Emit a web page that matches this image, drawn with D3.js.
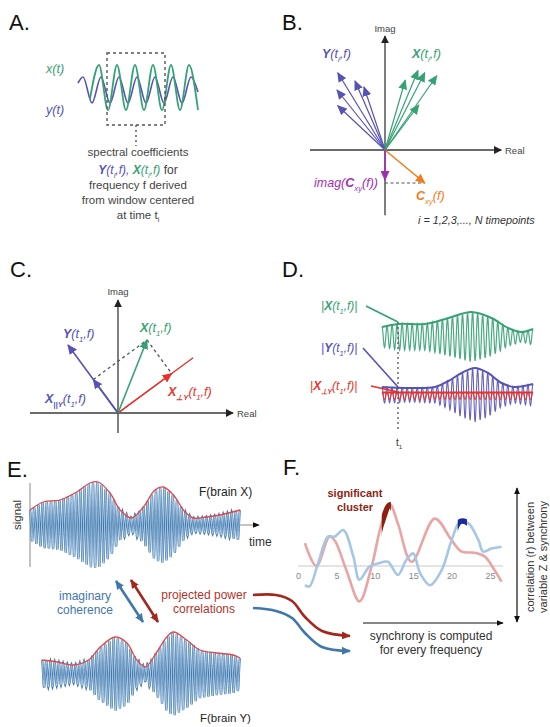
<!DOCTYPE html>
<html>
<head>
<meta charset="utf-8">
<script src="https://cdn.jsdelivr.net/npm/d3@7"></script>
<style>
  body { margin: 0; background: #fff; }
  svg { display: block; font-family: "Liberation Sans", Arial, sans-serif; }
</style>
</head>
<body>
<svg id="fig" width="550" height="727"></svg>
<script>
// ---- data ----------------------------------------------------------
// A: extrema of the two raw signals [t, value]
const A_X_EXTREMA = [[12,-0.5],[21,1],[30,-1],[39,1],[48,-1],[57,1],[66,-1],[75,1],[84,-1],[93,1],[102,-1],[111,1],[120,-1]];
const A_Y_EXTREMA = [[0,0.2],[5,0.47],[14,-0.69],[23,0.47],[32,-0.69],[41,0.47],[50,-0.69],[59,0.47],[68,-0.69],[77,0.47],[86,-0.69],[95,0.47],[104,-0.69],[113,0.47],[120,-0.2]];

// B: spectral coefficients in the complex plane [real, imag]
const B_Y_VECTORS = [[-0.63,1.03],[-0.40,0.92],[-0.64,0.80],[-0.28,0.84],[-0.63,0.59]];
const B_X_VECTORS = [[0.27,0.93],[0.44,1.06],[0.53,1.03],[0.69,0.99],[0.45,0.60]];
const B_CXY = [0.53,-0.44];
const B_IMAG_CXY = [0,-0.40];

// C: single timepoint vectors
const C_Y_VEC = [-1.0, 1.36];
const C_X_VEC = [0.58, 1.46];

// D: amplitude envelopes (position 0..1, amplitude)
const D_X_POS = [0, 0.11, 0.286, 0.44, 0.593, 0.725, 0.835, 0.923, 1];
const D_X_AMP = [10, 13, 13, 19, 25, 19, 9, 5, 8];
const D_Y_POS = [0, 0.176, 0.352, 0.44, 0.527, 0.615, 0.703, 0.791, 0.879, 1];
const D_Y_AMP = [8, 7, 8, 14, 22, 27, 22, 12, 8, 11];
const D_P_POS = [0, 1];
const D_P_AMP = [3.5, 3.5];

// E: signal envelopes
const E_X_POS = [0, 0.063, 0.143, 0.222, 0.286, 0.325, 0.381, 0.429, 0.484, 0.54, 0.595, 0.635, 0.683, 0.738, 0.778, 0.841, 0.905, 1];
const E_X_AMP = [15, 23, 25, 33, 42, 43, 32, 15, 7, 18, 35, 38, 30, 13, 7, 8, 10, 15];
const E_Y_POS = [0, 0.076, 0.16, 0.235, 0.294, 0.37, 0.429, 0.479, 0.521, 0.58, 0.63, 0.664, 0.731, 0.798, 0.882, 0.966, 1];
const E_Y_AMP = [14, 12, 9, 14, 27, 37, 31, 14, 7, 22, 37, 42, 34, 24, 21, 19, 16];

// F: correlation (r) by frequency
const F_TICKS = [0, 5, 10, 15, 20, 25];
const F_RED_FREQ = [0.9, 2.4, 4.1, 4.8, 6.3, 8, 9.6, 10.9, 12, 13, 14.8, 17.8, 20, 21.3, 23, 24.3, 25.6, 26.5];
const F_RED_R    = [0.38, 0, 0.49, 0.42, -0.07, -0.59, 0, 0.71, 1.02, 0.71, 0.07, 0.79, 0.43, 0.24, 0.22, 0.16, -0.07, -0.26];
const F_BLUE_FREQ = [0.9, 1.5, 2.6, 3.9, 4.8, 5.9, 7.2, 8, 9.3, 10.4, 11.7, 13, 14.1, 15, 15.9, 17.2, 18.7, 20, 21.1, 22.2, 23.5, 24.1, 25.2, 26.5];
const F_BLUE_R    = [-0.32, -0.34, 0.04, 0.49, 0.49, 0.6, 0.16, -0.23, -0.01, 0.04, 0.07, -0.15, 0.1, 0.21, -0.12, -0.32, -0.07, 0.43, 0.74, 0.71, 0.43, 0.24, 0.29, 0.32];
const F_RED_CLUSTER = [10.9, 12.1];
const F_BLUE_CLUSTER = [20.8, 22.0];

// ---- style ---------------------------------------------------------
const C = {
  green: "#36a273", blue: "#5652b6", red: "#e8312b", orange: "#f27c1c",
  purple: "#a22fb2", axis: "#3a3a3a", grey: "#555",
  eBlue: "#3f77ad", eRed: "#e2474a", eDark: "#a3271d",
  fRed: "#e9a4a4", fBlue: "#a6c6e6", fDarkRed: "#8f1f12", fDarkBlue: "#1b2b9e"
};

const svg = d3.select("#fig");
const defs = svg.append("defs");

function arrowHead(id, color, len, wid) {
  defs.append("marker").attr("id", id)
    .attr("viewBox", "0 0 10 10").attr("refX", 9).attr("refY", 5)
    .attr("markerWidth", len).attr("markerHeight", wid)
    .attr("markerUnits", "userSpaceOnUse").attr("preserveAspectRatio", "none")
    .attr("orient", "auto-start-reverse")
    .append("path").attr("d", "M0,0L10,5L0,10Z").attr("fill", color);
}
arrowHead("ah-axis", "#222", 8, 8);
arrowHead("ah-green", C.green, 10, 9);
arrowHead("ah-blue", C.blue, 10, 9);
arrowHead("ah-red", C.red, 10, 9);
arrowHead("ah-orange", C.orange, 10, 9);
arrowHead("ah-purple", C.purple, 10, 9);
arrowHead("ah-eblue", C.eBlue, 9, 8);
arrowHead("ah-edark", C.eDark, 9, 8);
arrowHead("ah-black", "#111", 7, 6);

// text with bold / subscript pieces
function rich(g, x, y, parts, o) {
  const size = o.size || 12;
  const t = g.append("text").attr("x", x).attr("y", y)
    .attr("font-size", size).attr("fill", o.fill || "#333")
    .attr("text-anchor", o.anchor || "start");
  if (o.italic) t.attr("font-style", "italic");
  if (o.bold) t.attr("font-weight", "bold");
  let shift = 0;
  parts.forEach(p => {
    if (typeof p === "string") p = { t: p };
    const s = t.append("tspan").text(p.t);
    const want = p.sub ? size * 0.3 : 0;
    if (want !== shift) { s.attr("dy", want - shift); shift = want; }
    if (p.sub) s.attr("font-size", size * 0.62);
    if (p.b) s.attr("font-weight", "bold");
    if (p.fill) s.attr("fill", p.fill);
    if (p.n) s.attr("font-style", "normal");
  });
  return t;
}

function label(x, y, s) {
  svg.append("text").attr("x", x).attr("y", y).attr("font-size", 22)
    .attr("fill", "#111").text(s);
}

// modulated carrier sampled along an envelope
function carrier(x0, x1, pos, amp, center, cycles) {
  const envX = d3.scaleLinear().domain([0, 1]).range([x0, x1]);
  const env = d3.scaleLinear().domain(pos).range(amp);
  const n = cycles * 16;
  const pts = d3.range(n + 1).map(i => {
    const f = i / n;
    return [envX(f), center - env(f) * Math.cos(2 * Math.PI * cycles * f)];
  });
  const top = pos.map((p, i) => [envX(p), center - amp[i]]);
  return { pts, top };
}

// ============================================================
//  A
// ============================================================
(function panelA() {
  const g = svg.append("g");
  label(9, 30, "A.");
  const x = d3.scaleLinear().domain([0, 120]).range([78, 198]);
  const y = d3.scaleLinear().domain([-1, 1]).range([110, 65]);
  const line = d3.line().x(d => x(d[0])).y(d => y(d[1])).curve(d3.curveMonotoneX);
  g.append("path").attr("d", line(A_Y_EXTREMA)).attr("fill", "none")
    .attr("stroke", C.blue).attr("stroke-width", 1.6);
  g.append("path").attr("d", line(A_X_EXTREMA)).attr("fill", "none")
    .attr("stroke", C.green).attr("stroke-width", 1.8);
  g.append("rect").attr("x", 107).attr("y", 53).attr("width", 58).attr("height", 72)
    .attr("fill", "none").attr("stroke", "#555").attr("stroke-width", 1.4)
    .attr("stroke-dasharray", "3,3");
  g.append("line").attr("x1", 136).attr("x2", 136).attr("y1", 125).attr("y2", 146)
    .attr("stroke", "#555").attr("stroke-width", 1.4).attr("stroke-dasharray", "2,3");
  rich(g, 46, 73, ["x(t)"], { fill: C.green, italic: true, size: 12.5 });
  rich(g, 46, 114, ["y(t)"], { fill: C.blue, italic: true, size: 12.5 });
  const tc = "#444", cx = 138;
  rich(g, cx, 156, ["spectral coefficients"], { fill: tc, anchor: "middle", size: 11.5 });
  rich(g, cx, 174, [
    { t: "Y", b: true, fill: C.blue }, { t: "(t", fill: C.blue }, { t: "i", sub: true, fill: C.blue },
    { t: ",f)", fill: C.blue }, { t: ", ", fill: C.blue },
    { t: "X", b: true, fill: C.green }, { t: "(t", fill: C.green }, { t: "i", sub: true, fill: C.green },
    { t: ",f)", fill: C.green }, { t: " for", fill: tc, n: true }
  ], { italic: true, anchor: "middle", size: 12 });
  rich(g, cx, 189, ["frequency f derived"], { fill: tc, anchor: "middle", size: 11.5 });
  rich(g, cx, 204, ["from window centered"], { fill: tc, anchor: "middle", size: 11.5 });
  rich(g, cx, 219, ["at time t", { t: "i", sub: true }], { fill: tc, anchor: "middle", size: 11.5 });
})();

// ============================================================
//  B
// ============================================================
(function panelB() {
  const g = svg.append("g");
  label(282, 30, "B.");
  const x = d3.scaleLinear().domain([0, 1]).range([385, 460]);
  const y = d3.scaleLinear().domain([0, 1]).range([150, 75]);
  g.append("line").attr("x1", x(-1.0)).attr("x2", x(1.55)).attr("y1", y(0)).attr("y2", y(0))
    .attr("stroke", C.axis).attr("stroke-width", 1.3).attr("marker-end", "url(#ah-axis)");
  g.append("line").attr("x1", x(0)).attr("x2", x(0)).attr("y1", y(-0.87)).attr("y2", y(1.52))
    .attr("stroke", C.axis).attr("stroke-width", 1.3).attr("marker-end", "url(#ah-axis)");
  g.append("text").attr("x", x(0)).attr("y", 32).attr("text-anchor", "middle")
    .attr("font-size", 9.5).attr("fill", "#444").text("Imag");
  g.append("text").attr("x", x(1.6)).attr("y", y(0) + 3.5)
    .attr("font-size", 9.5).attr("fill", "#444").text("Real");
  // dashed projection of C_xy onto the imag axis
  g.append("line").attr("x1", x(0)).attr("x2", x(B_CXY[0])).attr("y1", y(B_CXY[1])).attr("y2", y(B_CXY[1]))
    .attr("stroke", "#555").attr("stroke-width", 1.2).attr("stroke-dasharray", "3,2.5");
  const vec = (data, color, mk, w) => g.append("g").selectAll("line").data(data).join("line")
    .attr("x1", x(0)).attr("y1", y(0)).attr("x2", d => x(d[0])).attr("y2", d => y(d[1]))
    .attr("stroke", color).attr("stroke-width", w).attr("marker-end", `url(#${mk})`);
  vec(B_Y_VECTORS, C.blue, "ah-blue", 1.2);
  vec(B_X_VECTORS, C.green, "ah-green", 1.2);
  vec([B_CXY], C.orange, "ah-orange", 1.6);
  vec([B_IMAG_CXY], C.purple, "ah-purple", 1.6);
  rich(g, 322, 58, [{ t: "Y", b: true }, "(t", { t: "i", sub: true }, ",f)"], { fill: C.blue, italic: true, size: 12.5 });
  rich(g, 412, 58, [{ t: "X", b: true }, "(t", { t: "i", sub: true }, ",f)"], { fill: C.green, italic: true, size: 12.5 });
  rich(g, 378, 187, ["imag(", { t: "C", b: true }, { t: "xy", sub: true }, "(f))"], { fill: C.purple, italic: true, size: 12.5, anchor: "end" });
  rich(g, 416, 200, [{ t: "C", b: true }, { t: "xy", sub: true }, "(f)"], { fill: C.orange, italic: true, size: 12.5 });
  rich(g, 418, 224, ["i = 1,2,3,..., N timepoints"], { fill: "#333", italic: true, size: 10.8 });
})();

// ============================================================
//  C
// ============================================================
(function panelC() {
  const g = svg.append("g");
  label(10, 277, "C.");
  const x = d3.scaleLinear().domain([0, 1]).range([118, 168]);
  const y = d3.scaleLinear().domain([0, 1]).range([413, 363]);
  g.append("line").attr("x1", x(-1.76)).attr("x2", x(2.3)).attr("y1", y(0)).attr("y2", y(0))
    .attr("stroke", C.axis).attr("stroke-width", 1.3).attr("marker-end", "url(#ah-axis)");
  g.append("line").attr("x1", x(0)).attr("x2", x(0)).attr("y1", y(-0.4)).attr("y2", y(2.26))
    .attr("stroke", C.axis).attr("stroke-width", 1.3).attr("marker-end", "url(#ah-axis)");
  g.append("text").attr("x", x(0)).attr("y", 295).attr("text-anchor", "middle")
    .attr("font-size", 9.5).attr("fill", "#444").text("Imag");
  g.append("text").attr("x", x(2.38)).attr("y", y(0) + 3.5)
    .attr("font-size", 9.5).attr("fill", "#444").text("Real");

  // projection of X onto Y and its orthogonal remainder
  const yy = C_Y_VEC[0] ** 2 + C_Y_VEC[1] ** 2;
  const k = (C_X_VEC[0] * C_Y_VEC[0] + C_X_VEC[1] * C_Y_VEC[1]) / yy;
  const par = [k * C_Y_VEC[0], k * C_Y_VEC[1]];
  const perp = [C_X_VEC[0] - par[0], C_X_VEC[1] - par[1]];

  const dash = (a, b) => g.append("line").attr("x1", x(a[0])).attr("y1", y(a[1]))
    .attr("x2", x(b[0])).attr("y2", y(b[1])).attr("stroke", "#555")
    .attr("stroke-width", 1.3).attr("stroke-dasharray", "3,3");
  dash(par, C_X_VEC);
  dash(C_X_VEC, perp);

  const seg = (b, color, mk, w) => g.append("line").attr("x1", x(0)).attr("y1", y(0))
    .attr("x2", x(b[0])).attr("y2", y(b[1])).attr("stroke", color).attr("stroke-width", w)
    .attr("marker-end", mk ? `url(#${mk})` : null);
  seg([perp[0] * 1.4, perp[1] * 1.4], C.red, null, 1.4);
  seg(perp, C.red, "ah-red", 1.4);
  seg(C_Y_VEC, C.blue, "ah-blue", 1.6);
  seg(par, C.blue, "ah-blue", 1.6);
  seg(C_X_VEC, C.green, "ah-green", 1.6);

  rich(g, 63, 338, [{ t: "Y", b: true }, "(t", { t: "1", sub: true }, ",f)"], { fill: C.blue, italic: true, size: 12.5 });
  rich(g, 140, 332, [{ t: "X", b: true }, "(t", { t: "1", sub: true }, ",f)"], { fill: C.green, italic: true, size: 12.5 });
  rich(g, 45, 403, [{ t: "X", b: true }, { t: "||Y", sub: true, b: true }, "(t", { t: "1", sub: true }, ",f)"], { fill: C.blue, italic: true, size: 12.5 });
  rich(g, 168, 396, [{ t: "X", b: true }, { t: "⊥Y", sub: true, b: true }, "(t", { t: "1", sub: true }, ",f)"], { fill: C.red, italic: true, size: 12.5 });
})();

// ============================================================
//  D
// ============================================================
(function panelD() {
  const g = svg.append("g");
  label(282, 277, "D.");
  const line = d3.line();
  const env = d3.line().curve(d3.curveCatmullRom);
  const draw = (pos, amp, center, cycles, color, wOsc, wEnv) => {
    const w = carrier(382, 533, pos, amp, center, cycles);
    g.append("path").attr("d", line(w.pts)).attr("fill", "none")
      .attr("stroke", color).attr("stroke-width", wOsc).attr("opacity", 0.9);
    g.append("path").attr("d", env(w.top)).attr("fill", "none")
      .attr("stroke", color).attr("stroke-width", wEnv);
  };
  draw(D_X_POS, D_X_AMP, 337, 30, C.green, 1.2, 2);
  draw(D_Y_POS, D_Y_AMP, 395, 30, C.blue, 1.1, 2);
  draw(D_P_POS, D_P_AMP, 396, 30, C.red, 1.1, 2.2);

  g.append("line").attr("x1", 398).attr("x2", 398).attr("y1", 322).attr("y2", 432)
    .attr("stroke", "#555").attr("stroke-width", 1.3).attr("stroke-dasharray", "2,3");
  rich(g, 396, 446, ["t", { t: "1", sub: true }], { fill: "#333", size: 10 });

  const lead = (x1, y1, x2, y2, color) => g.append("line").attr("x1", x1).attr("y1", y1)
    .attr("x2", x2).attr("y2", y2).attr("stroke", color).attr("stroke-width", 1.6);
  rich(g, 321, 310, ["|", { t: "X", b: true }, "(t", { t: "1", sub: true }, ",f)|"], { fill: C.green, italic: true, size: 12 });
  lead(366, 306, 398, 322, C.green);
  rich(g, 321, 352, ["|", { t: "Y", b: true }, "(t", { t: "1", sub: true }, ",f)|"], { fill: C.blue, italic: true, size: 12 });
  lead(363, 348, 398, 387, C.blue);
  rich(g, 310, 390, ["|", { t: "X", b: true }, { t: "⊥Y", sub: true, b: true }, "(t", { t: "1", sub: true }, ",f)|"], { fill: C.red, italic: true, size: 12 });
  lead(371, 386, 398, 392, C.red);
})();

// ============================================================
//  E
// ============================================================
(function panelE() {
  const g = svg.append("g");
  label(7, 477, "E.");
  g.append("line").attr("x1", 30).attr("x2", 30).attr("y1", 483).attr("y2", 567)
    .attr("stroke", "#888").attr("stroke-width", 1);
  g.append("line").attr("x1", 30).attr("x2", 259).attr("y1", 525).attr("y2", 525)
    .attr("stroke", "#888").attr("stroke-width", 1).attr("marker-end", "url(#ah-black)");
  g.append("text").attr("transform", "translate(21,515) rotate(-90)").attr("text-anchor", "middle")
    .attr("font-size", 11.5).attr("fill", "#333").text("signal");
  g.append("text").attr("x", 249).attr("y", 546).attr("font-size", 12).attr("fill", "#333").text("time");

  const line = d3.line();
  const env = d3.line().curve(d3.curveCatmullRom);
  const draw = (x0, x1, pos, amp, center, cycles) => {
    const w = carrier(x0, x1, pos, amp, center, cycles);
    g.append("path").attr("d", line(w.pts)).attr("fill", "none")
      .attr("stroke", C.eBlue).attr("stroke-width", 2.2);
    g.append("path").attr("d", line(w.pts)).attr("fill", "none")
      .attr("stroke", "#c3dbef").attr("stroke-width", 0.8);
    g.append("path").attr("d", env(w.top)).attr("fill", "none")
      .attr("stroke", C.eRed).attr("stroke-width", 1.3);
  };
  draw(30, 240, E_X_POS, E_X_AMP, 525, 50);
  draw(42, 240, E_Y_POS, E_Y_AMP, 674, 47);

  g.append("text").attr("x", 199).attr("y", 496).attr("font-size", 12).attr("fill", "#222").text("F(brain X)");
  g.append("text").attr("x", 200).attr("y", 722).attr("font-size", 11.5).attr("fill", "#222").text("F(brain Y)");

  g.append("line").attr("x1", 116).attr("y1", 581).attr("x2", 143).attr("y2", 622)
    .attr("stroke", C.eBlue).attr("stroke-width", 2.6)
    .attr("marker-start", "url(#ah-eblue)").attr("marker-end", "url(#ah-eblue)");
  g.append("line").attr("x1", 131).attr("y1", 580).attr("x2", 158).attr("y2", 622)
    .attr("stroke", C.eDark).attr("stroke-width", 2.6)
    .attr("marker-start", "url(#ah-edark)").attr("marker-end", "url(#ah-edark)");
  g.append("text").attr("x", 85).attr("y", 600).attr("text-anchor", "middle").attr("font-size", 12).attr("fill", C.eBlue).text("imaginary");
  g.append("text").attr("x", 85).attr("y", 614).attr("text-anchor", "middle").attr("font-size", 12).attr("fill", C.eBlue).text("coherence");
  g.append("text").attr("x", 204).attr("y", 599).attr("text-anchor", "middle").attr("font-size", 12).attr("fill", "#b0342b").text("projected power");
  g.append("text").attr("x", 204).attr("y", 613).attr("text-anchor", "middle").attr("font-size", 12).attr("fill", "#b0342b").text("correlations");

  // flowing arrows into panel F
  const flow = d3.line().curve(d3.curveCatmullRom);
  const redPath = [[253, 595], [276, 595], [292, 601], [305, 617], [322, 631], [350, 636]];
  const bluePath = [[253, 608], [276, 611], [292, 618], [305, 633], [322, 647], [350, 651]];
  g.append("path").attr("d", flow(redPath)).attr("fill", "none").attr("stroke", C.eDark)
    .attr("stroke-width", 2.6).attr("marker-end", "url(#ah-edark)");
  g.append("path").attr("d", flow(bluePath)).attr("fill", "none").attr("stroke", C.eBlue)
    .attr("stroke-width", 2.6).attr("marker-end", "url(#ah-eblue)");
})();

// ============================================================
//  F
// ============================================================
(function panelF() {
  const g = svg.append("g");
  label(283, 475, "F.");
  const x = d3.scaleLinear().domain([0, 25]).range([298, 490]);
  const y = d3.scaleLinear().domain([-1, 1]).range([626, 506]);

  g.append("line").attr("x1", x(0)).attr("x2", x(26.7)).attr("y1", y(0)).attr("y2", y(0))
    .attr("stroke", "#c9c9c9").attr("stroke-width", 1.2);
  const ax = g.append("g").attr("transform", `translate(0,${y(0) + 4})`)
    .call(d3.axisBottom(x).tickValues(F_TICKS).tickSize(0).tickPadding(3));
  ax.select(".domain").remove();
  ax.selectAll("text").attr("fill", "#888").attr("font-size", 9)
    .attr("font-family", "Liberation Sans, Arial, sans-serif");

  const line = d3.line().x(d => x(d[0])).y(d => y(d[1])).curve(d3.curveCatmullRom.alpha(0.5));
  const red = F_RED_FREQ.map((f, i) => [f, F_RED_R[i]]);
  const blue = F_BLUE_FREQ.map((f, i) => [f, F_BLUE_R[i]]);
  g.append("path").attr("d", line(red)).attr("fill", "none").attr("stroke", C.fRed).attr("stroke-width", 2.6);
  g.append("path").attr("d", line(blue)).attr("fill", "none").attr("stroke", C.fBlue).attr("stroke-width", 2.6);

  const cluster = (id, range, data, color) => {
    defs.append("clipPath").attr("id", id).append("rect")
      .attr("x", x(range[0])).attr("width", x(range[1]) - x(range[0]))
      .attr("y", y(1.4)).attr("height", y(-1.4) - y(1.4));
    g.append("path").attr("d", line(data)).attr("fill", "none").attr("stroke", color)
      .attr("stroke-width", 5.5).attr("stroke-linecap", "round").attr("clip-path", `url(#${id})`);
  };
  cluster("clip-red", F_RED_CLUSTER, red, C.fDarkRed);
  cluster("clip-blue", F_BLUE_CLUSTER, blue, C.fDarkBlue);

  g.append("text").attr("x", 355).attr("y", 497).attr("text-anchor", "middle").attr("font-size", 11)
    .attr("font-weight", "bold").attr("fill", C.fDarkRed).text("significant");
  g.append("text").attr("x", 355).attr("y", 511).attr("text-anchor", "middle").attr("font-size", 11)
    .attr("font-weight", "bold").attr("fill", C.fDarkRed).text("cluster");

  g.append("line").attr("x1", 517).attr("x2", 517).attr("y1", 488).attr("y2", 622)
    .attr("stroke", "#111").attr("stroke-width", 1.2)
    .attr("marker-start", "url(#ah-black)").attr("marker-end", "url(#ah-black)");
  g.append("text").attr("transform", "translate(534,557) rotate(-90)").attr("text-anchor", "middle")
    .attr("font-size", 11).attr("fill", "#333").text("correlation (r) between");
  g.append("text").attr("transform", "translate(547,557) rotate(-90)").attr("text-anchor", "middle")
    .attr("font-size", 11).attr("fill", "#333").text("variable Z & synchrony");

  g.append("line").attr("x1", 363).attr("x2", 503).attr("y1", 623).attr("y2", 623)
    .attr("stroke", "#111").attr("stroke-width", 1.2).attr("marker-end", "url(#ah-black)");
  g.append("text").attr("x", 431).attr("y", 640).attr("text-anchor", "middle").attr("font-size", 12)
    .attr("fill", "#333").text("synchrony is computed");
  g.append("text").attr("x", 431).attr("y", 654).attr("text-anchor", "middle").attr("font-size", 12)
    .attr("fill", "#333").text("for every frequency");
})();
</script>
</body>
</html>
